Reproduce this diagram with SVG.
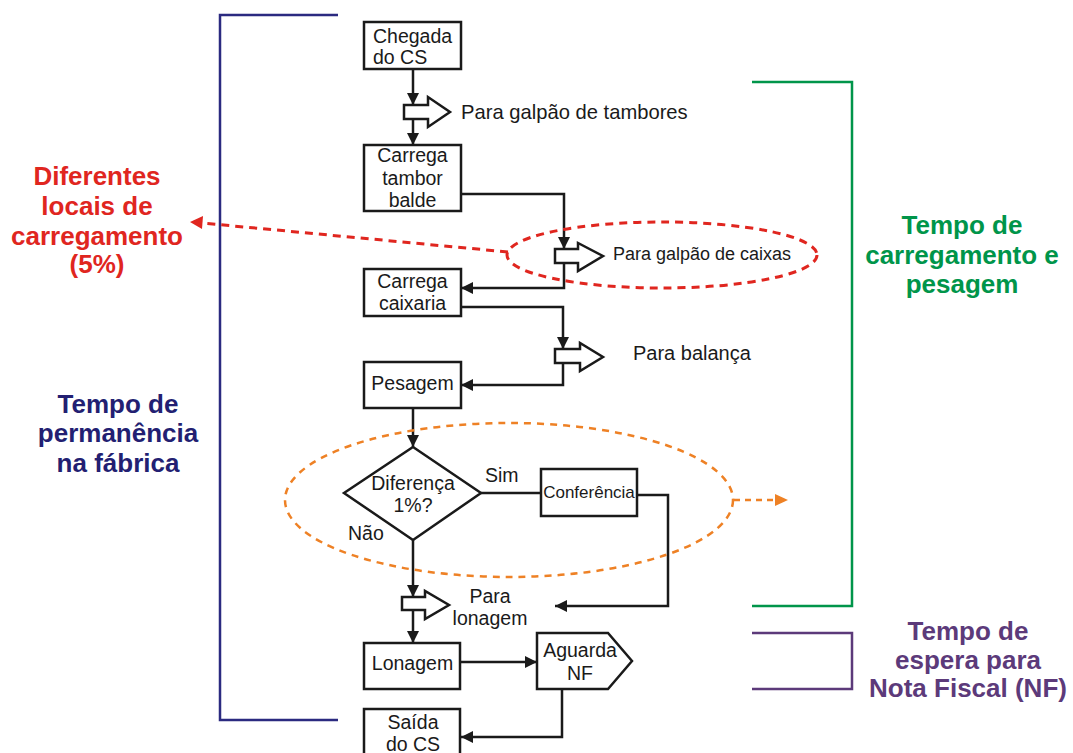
<svg xmlns="http://www.w3.org/2000/svg" width="1073" height="753" viewBox="0 0 1073 753">
  <style>
    .box { fill: #fff; stroke: #1a1a1a; stroke-width: 2.5; }
    .blk { fill: #fff; stroke: #1a1a1a; stroke-width: 2.5; stroke-linejoin: miter; }
    .t { font-family: "Liberation Sans", Arial, sans-serif; font-size: 19.5px; fill: #1a1a1a; }
    .tc { text-anchor: middle; }
    .conn { fill: none; stroke: #1a1a1a; stroke-width: 2.5; marker-end: url(#ah); }
    .plain { fill: none; stroke: #1a1a1a; stroke-width: 2.5; }
    .lbl { font-family: "Liberation Sans", Arial, sans-serif; font-size: 26px; font-weight: bold; text-anchor: middle; }
    .brk { fill: none; stroke-width: 2.5; }
  </style>
  <defs>
    <marker id="ah" markerUnits="userSpaceOnUse" markerWidth="13" markerHeight="13" refX="12" refY="6" orient="auto">
      <path d="M0,0 L12,6 L0,12 z" fill="#1a1a1a"/>
    </marker>
  </defs>
  <rect width="1073" height="753" fill="#fff"/>

  <!-- Brackets -->
  <g id="bracket-permanencia">
    <polyline class="brk" stroke="#2B2A80" points="338,15 220,15 220,720 338,720"/>
    <text class="lbl" fill="#231F72"><tspan x="118" y="413">Tempo de</tspan><tspan x="118" y="442">permanência</tspan><tspan x="118" y="472">na fábrica</tspan></text>
  </g>
  <g id="bracket-carregamento">
    <polyline class="brk" stroke="#00954A" points="752,82 852,82 852,606 752,606"/>
    <text class="lbl" fill="#00954A"><tspan x="962" y="234">Tempo de</tspan><tspan x="962" y="264">carregamento e</tspan><tspan x="962" y="293">pesagem</tspan></text>
  </g>
  <g id="bracket-nf">
    <polyline class="brk" stroke="#5C3A7A" points="752,633 852,633 852,689 752,689"/>
    <text class="lbl" fill="#5C3A7A"><tspan x="968" y="640">Tempo de</tspan><tspan x="968" y="669">espera para</tspan><tspan x="968" y="697">Nota Fiscal (NF)</tspan></text>
  </g>

  <!-- Nodes -->
  <g id="chegada">
    <rect class="box" x="364" y="22" width="97" height="47"/>
    <text class="t"><tspan x="373" y="43">Chegada</tspan><tspan x="373" y="64">do CS</tspan></text>
  </g>
  <g id="galpao-tambores">
    <path class="blk" d="M404,105 L428,105 L428,97 L450,112 L428,127 L428,119 L404,119 z"/>
    <text class="t" x="461" y="119" style="font-size:20.2px">Para galpão de tambores</text>
  </g>
  <g id="carrega-tambor">
    <rect class="box" x="364" y="145" width="97" height="66"/>
    <text class="t tc"><tspan x="412.5" y="162">Carrega</tspan><tspan x="412.5" y="185">tambor</tspan><tspan x="412.5" y="207">balde</tspan></text>
  </g>
  <g id="galpao-caixas">
    <path class="blk" d="M555,249 L578,249 L578,243 L603,256 L578,271 L578,263 L555,263 z"/>
    <text class="t" x="613" y="260" style="font-size:18px">Para galpão de caixas</text>
  </g>
  <g id="carrega-caixaria">
    <rect class="box" x="364" y="269" width="97" height="47"/>
    <text class="t tc"><tspan x="412.5" y="288">Carrega</tspan><tspan x="412.5" y="310">caixaria</tspan></text>
  </g>
  <g id="balanca">
    <path class="blk" d="M555,349 L580,349 L580,343 L603,357 L580,371 L580,363 L555,363 z"/>
    <text class="t" x="633" y="360" style="font-size:20px">Para balança</text>
  </g>
  <g id="pesagem">
    <rect class="box" x="364" y="362" width="97" height="46"/>
    <text class="t tc" x="412.5" y="390">Pesagem</text>
  </g>
  <g id="diferenca">
    <path class="box" d="M413,447 L481,493 L413,540 L344,493 z"/>
    <text class="t tc"><tspan x="413" y="490">Diferença</tspan><tspan x="413" y="512">1%?</tspan></text>
    <text class="t" x="485" y="482">Sim</text>
    <text class="t" x="348" y="540">Não</text>
  </g>
  <g id="conferencia">
    <rect class="box" x="541" y="469" width="96" height="47"/>
    <text class="t tc" x="589" y="498" style="font-size:17px">Conferência</text>
  </g>
  <g id="para-lonagem">
    <path class="blk" d="M402,597 L425,597 L425,591 L449,605 L425,619 L425,610 L402,610 z"/>
    <text class="t tc"><tspan x="490" y="603">Para</tspan><tspan x="490" y="625">lonagem</tspan></text>
  </g>
  <g id="lonagem">
    <rect class="box" x="364" y="643" width="96" height="46"/>
    <text class="t tc" x="412.5" y="670">Lonagem</text>
  </g>
  <g id="aguarda-nf">
    <path class="box" d="M537,633 L608,633 L632,661 L608,689 L537,689 z"/>
    <text class="t tc"><tspan x="580" y="657">Aguarda</tspan><tspan x="580" y="680">NF</tspan></text>
  </g>
  <g id="saida">
    <rect class="box" x="364" y="709" width="96" height="50"/>
    <text class="t tc"><tspan x="413" y="729">Saída</tspan><tspan x="413" y="751">do CS</tspan></text>
  </g>

  <!-- Connectors -->
  <g id="connectors">
    <polyline class="conn" points="413,69 413,105"/>
    <polyline class="conn" points="413,119 413,145"/>
    <polyline class="conn" points="461,194 564,194 564,249"/>
    <polyline class="conn" points="564,263 564,288 461,288"/>
    <polyline class="conn" points="461,307 563,307 563,349"/>
    <polyline class="conn" points="563,363 563,385 461,385"/>
    <polyline class="conn" points="413,408 413,447"/>
    <polyline class="plain" points="481,493 541,493"/>
    <polyline class="conn" points="637,495 668,495 668,606 555,606"/>
    <polyline class="conn" points="413,540 413,597"/>
    <polyline class="conn" points="413,610 413,643"/>
    <polyline class="conn" points="461,662 537,662"/>
    <polyline class="conn" points="562,689 562,737 461,737"/>
  </g>

  <!-- Highlight callouts -->
  <g id="callout-locais">
    <ellipse cx="662" cy="255" rx="155" ry="33" fill="none" stroke="#E0261F" stroke-width="3" stroke-dasharray="8,6"/>
    <line x1="508" y1="252" x2="202" y2="223" stroke="#E0261F" stroke-width="3" stroke-dasharray="8,6"/>
    <path d="M190,222 L203,216 L202,229 z" fill="#E0261F"/>
    <text class="lbl" fill="#E0261F"><tspan x="97" y="185">Diferentes</tspan><tspan x="97" y="215">locais de</tspan><tspan x="97" y="245">carregamento</tspan><tspan x="97" y="273">(5%)</tspan></text>
  </g>
  <g id="callout-conferencia">
    <ellipse cx="509" cy="500" rx="224" ry="77" fill="none" stroke="#EE8125" stroke-width="2.5" stroke-dasharray="7,6"/>
    <line x1="734" y1="500" x2="775" y2="500" stroke="#EE8125" stroke-width="2.5" stroke-dasharray="6,5"/>
    <path d="M775,494 L788,500 L775,506 z" fill="#EE8125"/>
  </g>
</svg>
